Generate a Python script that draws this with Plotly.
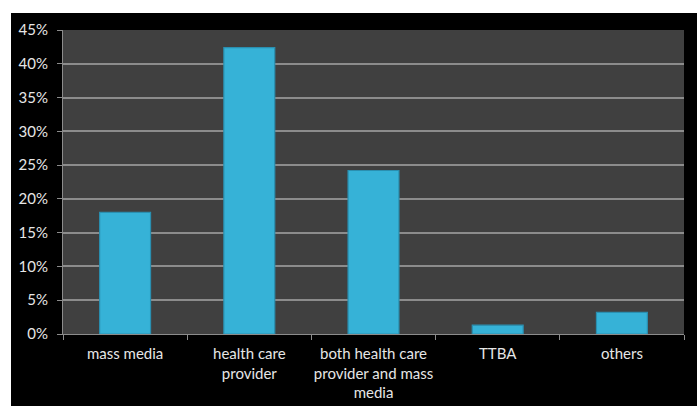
import plotly.graph_objects as go

# Source of information (share of respondents)
categories = [
    "mass media",
    "health care<br>provider",
    "both health care<br>provider and mass<br>media",
    "TTBA",
    "others",
]
shares = [0.18, 0.424, 0.242, 0.013, 0.032]

y_ticks = [0, 0.05, 0.10, 0.15, 0.20, 0.25, 0.30, 0.35, 0.40, 0.45]

W, H = 697, 406
L, R, T, B = 63, 13, 30, 72
pw, ph = W - L - R, H - T - B

fig = go.Figure()
fig.add_trace(go.Bar(
    x=categories,
    y=shares,
    marker=dict(color="#36b2d7", line=dict(color="#2a8fb0", width=1.2)),
    hoverinfo="x+y",
))

axis_font = dict(family="Lato, 'Open Sans', sans-serif", size=15, color="#e6e6e6")

fig.update_layout(
    width=W, height=H,
    margin=dict(l=L, r=R, t=T, b=B, pad=0),
    paper_bgcolor="#000000",
    plot_bgcolor="#404040",
    bargap=0.59,
    showlegend=False,
    font=axis_font,
    xaxis=dict(
        type="category",
        tickson="boundaries",
        tickangle=0, automargin=False,
        ticks="outside", ticklen=5, tickcolor="#8c8c8c", tickwidth=1,
        showline=True, linecolor="#8c8c8c", linewidth=1,
        showgrid=False, tickfont=axis_font,
        ticklabelstandoff=6,
    ),
    yaxis=dict(
        range=[0, 0.45],
        tickvals=y_ticks,
        tickformat=".0%",
        automargin=False,
        ticks="outside", ticklen=5, tickcolor="#8c8c8c", tickwidth=1,
        showline=True, linecolor="#8c8c8c", linewidth=1,
        showgrid=True, gridcolor="#8c8c8c", gridwidth=1.5,
        zeroline=False, tickfont=axis_font,
        ticklabelstandoff=6,
    ),
    shapes=[
        # white strip along the left edge
        dict(type="rect", xref="paper", yref="paper", layer="below",
             x0=-L / pw, x1=-(L - 11) / pw, y0=-B / ph, y1=(ph + T) / ph,
             fillcolor="#ffffff", line=dict(width=0)),
        # white strip along the top edge
        dict(type="rect", xref="paper", yref="paper", layer="below",
             x0=-L / pw, x1=(pw + R) / pw, y0=(ph + T - 13) / ph, y1=(ph + T) / ph,
             fillcolor="#ffffff", line=dict(width=0)),
    ],
)

fig.write_html("out.html")
